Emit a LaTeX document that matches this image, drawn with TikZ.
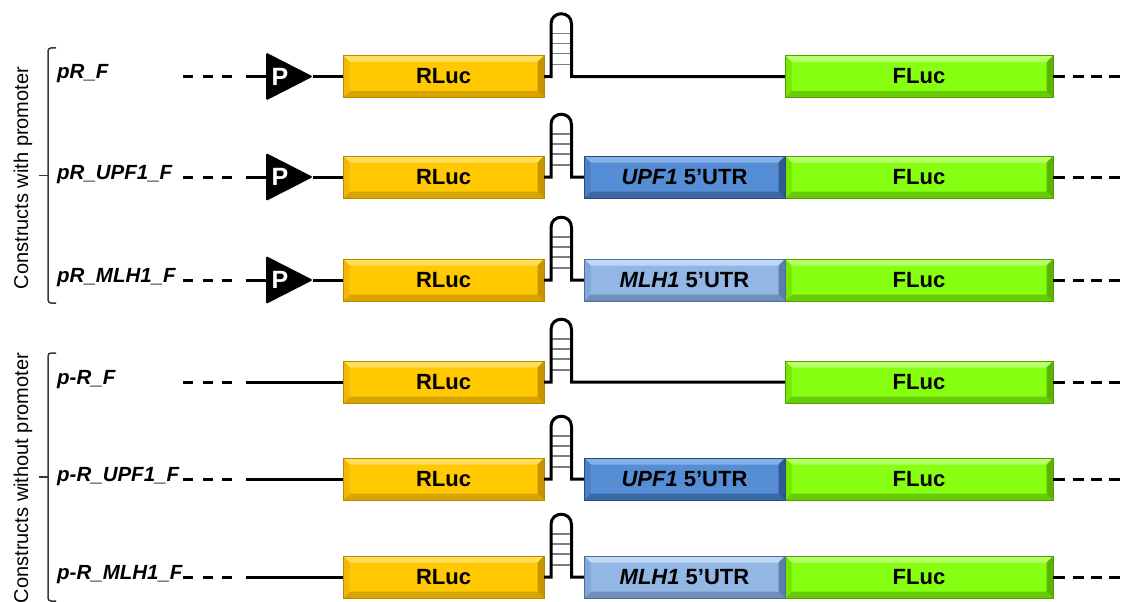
\documentclass[tikz,border=0pt]{standalone}
\usepackage{fontspec}
\setmainfont{Liberation Sans}
\usetikzlibrary{calc}
\definecolor{rlM}{RGB}{255,200,0}
\definecolor{rlL}{RGB}{255,222,90}
\definecolor{rlS}{RGB}{240,185,0}
\definecolor{rlD}{RGB}{185,135,0}
\definecolor{flM}{RGB}{134,255,16}
\definecolor{flL}{RGB}{182,255,105}
\definecolor{flS}{RGB}{118,232,0}
\definecolor{flD}{RGB}{80,160,0}
\definecolor{upM}{RGB}{85,142,213}
\definecolor{upL}{RGB}{132,177,232}
\definecolor{upS}{RGB}{75,128,198}
\definecolor{upD}{RGB}{40,75,125}
\definecolor{mlM}{RGB}{146,183,228}
\definecolor{mlL}{RGB}{192,216,245}
\definecolor{mlS}{RGB}{130,167,216}
\definecolor{mlD}{RGB}{80,110,155}
\definecolor{brk}{RGB}{55,55,55}
\definecolor{rungc}{RGB}{125,125,125}
\tikzset{
  bevelbox/.style n args={4}{fill=#1, draw=#4, line width=0.7pt, minimum height=42pt,
    inner sep=0pt, outer sep=0pt, font=\fontsize{22}{24}\selectfont\bfseries,
    path picture={
      \fill[#2] (path picture bounding box.north west) -- (path picture bounding box.north east)
        -- ([xshift=-6.5pt,yshift=-6.5pt]path picture bounding box.north east)
        -- ([xshift=6.5pt,yshift=-6.5pt]path picture bounding box.north west) -- cycle;
      \fill[#4!55!#1] (path picture bounding box.south west) -- (path picture bounding box.south east)
        -- ([xshift=-6.5pt,yshift=6.5pt]path picture bounding box.south east)
        -- ([xshift=6.5pt,yshift=6.5pt]path picture bounding box.south west) -- cycle;
      \fill[#3] (path picture bounding box.north west) -- (path picture bounding box.south west)
        -- ([xshift=6.5pt,yshift=6.5pt]path picture bounding box.south west)
        -- ([xshift=6.5pt,yshift=-6.5pt]path picture bounding box.north west) -- cycle;
      \fill[#4!80!#1] (path picture bounding box.north east) -- (path picture bounding box.south east)
        -- ([xshift=-6.5pt,yshift=6.5pt]path picture bounding box.south east)
        -- ([xshift=-6.5pt,yshift=-6.5pt]path picture bounding box.north east) -- cycle;
    }},
  ln/.style={line width=3pt, black},
  dashln/.style={line width=3pt, black, dash pattern=on 10pt off 9.5pt},
  rung/.style={line width=1.5pt, rungc},
  prom/.style={minimum width=47pt, minimum height=48pt, inner sep=0pt, outer sep=0pt},
  ptxt/.style={text=white, inner sep=0pt, font=\fontsize{25}{27}\selectfont\bfseries},
  lbl/.style={anchor=base west, inner sep=0pt, font=\fontsize{20.5}{22}\selectfont\bfseries\itshape},
  side/.style={rotate=90, anchor=base, inner sep=0pt, font=\fontsize{20}{22}\selectfont},
  brack/.style={line width=1.5pt, brk, rounded corners=3pt},
}
% #1 id, #2 y, #3 label, #4 promoter 1/0, #5 utr 0 none / 1 UPF1 / 2 MLH1
\newcommand{\construct}[5]{%
  \node[lbl] (lab#1) at (57,#2+2) {#3};
  \coordinate (ds#1) at (183,#2);
  \coordinate (de#1) at (236,#2);
  \coordinate (ls#1) at (246,#2);
  \draw[dashln] (ds#1) -- (de#1);
  \node[bevelbox={rlM}{rlL}{rlS}{rlD}, minimum width=201pt] (rl#1) at (443.5,#2) {RLuc};
  \ifnum#4=1
    \node[prom] (pr#1) at (289.5,#2) {};
    \fill[black, rounded corners=1.5pt] (pr#1.north west) -- (pr#1.east) -- (pr#1.south west) -- cycle;
    \node[ptxt] (pt#1) at (280,#2) {P};
    \draw[ln] (ls#1) -- (pr#1.west);
    \draw[ln] (pr#1.east) -- (rl#1.west);
  \else
    \draw[ln] (ls#1) -- (rl#1.west);
  \fi
  \node[bevelbox={flM}{flL}{flS}{flD}, minimum width=268pt] (fl#1) at (919,#2) {FLuc};
  \ifnum#5=1
    \node[bevelbox={upM}{upL}{upS}{upD}, minimum width=201pt] (ut#1) at (684.5,#2) {{\itshape UPF1} 5’UTR};
  \fi
  \ifnum#5=2
    \node[bevelbox={mlM}{mlL}{mlS}{mlD}, minimum width=201pt] (ut#1) at (684.5,#2) {{\itshape MLH1} 5’UTR};
  \fi
  \ifnum#5=0 \def\nextnode{fl#1}\else \def\nextnode{ut#1}\fi
  \coordinate (hl#1) at (551,#2);
  \coordinate (hr#1) at (571.5,#2);
  \foreach \d in {43,33,23,12} \draw[rung] ($(hl#1)+(0,-\d)$) -- ($(hr#1)+(0,-\d)$);
  \draw[ln] (rl#1.east) -- (hl#1) -- ($(hl#1)+(0,-52.5)$)
    .. controls +(0,-13.67) and +(0,-13.67) .. ($(hr#1)+(0,-52.5)$) -- (hr#1) -- (\nextnode.west);
  \coordinate (rs#1) at (1065,#2);
  \coordinate (rd#1) at (1073,#2);
  \coordinate (re#1) at (1130,#2);
  \draw[ln] (fl#1.east) -- (rs#1);
  \draw[dashln, dash pattern=on 11pt off 7pt] (rd#1) -- (re#1);
}
\begin{document}
\begin{tikzpicture}[x=1pt,y=-1pt]
\useasboundingbox (0,0) rectangle (1124,602);
\construct{1}{76.5}{pR\_F}{1}{0}
\construct{2}{177}{pR\_UPF1\_F}{1}{1}
\construct{3}{280}{pR\_MLH1\_F}{1}{2}
\construct{4}{382}{p-R\_F}{0}{0}
\construct{5}{479}{p-R\_UPF1\_F}{0}{1}
\construct{6}{577}{p-R\_MLH1\_F}{0}{2}
% brackets
\coordinate (b1t) at (56,48);
\coordinate (b1tc) at (48,48);
\coordinate (b1bc) at (48,303);
\coordinate (b1b) at (56,303);
\coordinate (b1m) at (48,175.5);
\coordinate (b1k) at (39,175.5);
\draw[brack] (b1t) -- (b1tc) -- (b1bc) -- (b1b);
\draw[brack] (b1m) -- (b1k);
\coordinate (b2t) at (56,353);
\coordinate (b2tc) at (48,353);
\coordinate (b2bc) at (48,601);
\coordinate (b2b) at (56,601);
\coordinate (b2m) at (48,477);
\coordinate (b2k) at (39,477);
\draw[brack] (b2t) -- (b2tc) -- (b2bc) -- (b2b);
\draw[brack] (b2m) -- (b2k);
\node[side] (s1) at (28,178) {Constructs with promoter};
\node[side] (s2) at (28,478) {Constructs without promoter};
\end{tikzpicture}
\end{document}
